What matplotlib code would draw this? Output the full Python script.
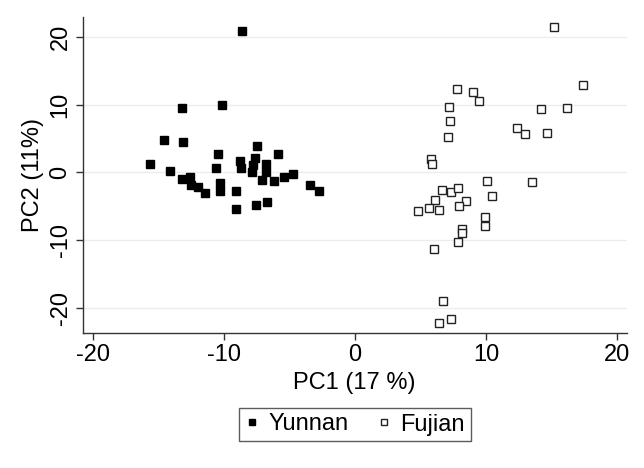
import matplotlib
matplotlib.use("Agg")
import matplotlib.pyplot as plt

# PC scores
yunnan_pc1 = [-8.59, -13.17, -10.17, -14.55, -13.10, -7.47, -10.42, -5.87, -15.62, -8.79,
              -7.62, -10.57, -8.69, -7.78, -6.81, -14.09, -7.88, -6.81, -13.17, -12.56,
              -7.06, -6.20, -5.45, -4.69, -12.54, -11.98, -11.44, -10.32, -10.32, -9.10,
              -3.45, -2.76, -9.10, -7.57, -6.71]
yunnan_pc2 = [20.9, 9.54, 9.9, 4.77, 4.52, 3.84, 2.75, 2.75, 1.18, 1.67,
              2.11, 0.68, 0.68, 1.08, 1.18, 0.19, 0.09, 0.09, -0.99, -0.65,
              -1.09, -1.33, -0.74, -0.21, -1.83, -2.13, -3.06, -1.62, -2.81, -2.72,
              -1.83, -2.72, -5.38, -4.79, -4.39]

fujian_pc1 = [15.19, 17.36, 7.81, 9.01, 9.47, 7.17, 14.23, 16.19, 7.23, 12.37,
              12.98, 14.64, 7.12, 5.80, 5.90, 10.08, 13.54, 6.62, 7.33, 7.89,
              10.48, 6.13, 8.47, 4.83, 5.67, 6.39, 7.96, 9.92, 9.92, 8.14,
              8.14, 7.88, 6.05, 6.71, 7.30, 6.43]
fujian_pc2 = [21.5, 12.94, 12.3, 11.91, 10.58, 9.69, 9.35, 9.45, 7.58, 6.59,
              5.61, 5.76, 5.17, 1.92, 1.23, -1.29, -1.43, -2.57, -2.91, -2.32,
              -3.55, -4.09, -4.28, -5.67, -5.32, -5.52, -4.98, -6.65, -7.93, -8.38,
              -8.92, -10.34, -11.37, -18.97, -21.6, -22.2]

ticks = [-20, -10, 0, 10, 20]

plt.rcParams['font.family'] = ['Liberation Sans', 'DejaVu Sans']
plt.rcParams['axes.unicode_minus'] = False

fig = plt.figure(figsize=(6.44, 4.68), dpi=100)
ax = fig.add_axes([0.1284, 0.2878, 0.8447, 0.6765])

for t in ticks:
    ax.axhline(t, color='#e6eff0', linewidth=1.0, zorder=0)

ax.plot(yunnan_pc1, yunnan_pc2, linestyle='None', marker='s', markersize=6.3,
        markerfacecolor='black', markeredgecolor='black', label='Yunnan')
ax.plot(fujian_pc1, fujian_pc2, linestyle='None', marker='s', markersize=6.0,
        markerfacecolor='white', markeredgecolor='#222222', markeredgewidth=1.0,
        label='Fujian')

ax.set_xlim(-20.77, 20.73)
ax.set_ylim(-23.78, 22.98)
ax.set_xticks(ticks)
ax.set_yticks(ticks)
ax.tick_params(direction='out', length=5, width=1, color='#333333',
               labelsize=17, pad=3)
for lbl in ax.get_yticklabels():
    lbl.set_rotation(90)
    lbl.set_va('center')

for side in ['top', 'right']:
    ax.spines[side].set_visible(False)
for side in ['left', 'bottom']:
    ax.spines[side].set_color('#333333')
    ax.spines[side].set_linewidth(1.0)

ax.set_xlabel('PC1 (17 %)', fontsize=17, labelpad=4)
ax.set_ylabel('PC2 (11%)', fontsize=17, labelpad=4)

leg = fig.legend(loc='center', bbox_to_anchor=(355 / 644, 1 - 424.5 / 468), ncol=2,
                 fontsize=17, frameon=True, fancybox=False, edgecolor='#333333',
                 markerscale=0.75, handlelength=0.6, handletextpad=0.4,
                 columnspacing=1.2, borderpad=0.25)
leg.get_frame().set_linewidth(1.0)

fig.savefig('out.png', dpi=100, facecolor='white')
